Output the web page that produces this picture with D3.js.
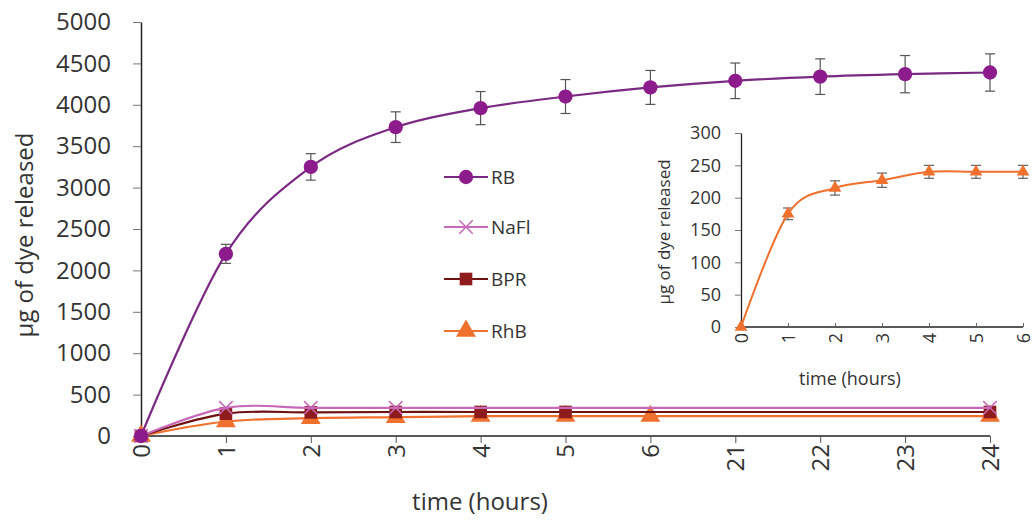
<!DOCTYPE html>
<meta charset="utf-8">
<script src="https://d3js.org/d3.v7.min.js"></script>
<style>
    body { margin: 0; background: #fff; font-family: "Open Sans", sans-serif; }
    text { fill: #333; }
</style>
<div id="viz_area"></div>
<script>
    // data
    var timeLabels = ["0", "1", "2", "3", "4", "5", "6", "21", "22", "23", "24"]
    var rbValues = [0, 2200, 3250, 3730, 3960, 4100, 4210, 4290, 4340, 4370, 4390]
    var rbErrors = [0, 115, 160, 185, 200, 205, 205, 215, 215, 225, 225]
    var naflValues = [0, 340, 340, 340, null, null, null, null, null, null, 340]
    var bprValues = [0, 270, 285, 290, 290, 290, null, null, null, null, 290]
    var rhbValues = [0, 175, 215, 227, 240, 240, 240, null, null, null, 240]
    var yTicks = [0, 500, 1000, 1500, 2000, 2500, 3000, 3500, 4000, 4500, 5000]

    var insetTimes = ["0", "1", "2", "3", "4", "5", "6"]
    var insetValues = [0, 175, 215, 227, 240, 240, 240]
    var insetErrors = [0, 9, 11, 11, 10, 10, 10]
    var insetTicks = [0, 50, 100, 150, 200, 250, 300]

    var series = [
        { name: "RB", values: rbValues, errors: rbErrors, line: "#7a2a82", fill: "#8c1b8c", shape: "circle" },
        { name: "NaFl", values: naflValues, line: "#c868b8", fill: "#c868b8", shape: "cross" },
        { name: "BPR", values: bprValues, line: "#6e1212", fill: "#8e1c1c", shape: "square" },
        { name: "RhB", values: rhbValues, line: "#f0702e", fill: "#f0702e", shape: "triangle" }
    ]

    var W = 1034, H = 522
    var svg = d3.select("#viz_area").append("svg")
        .attr("width", W).attr("height", H)

    var x = d3.scalePoint().domain(timeLabels).range([141, 990])
    var y = d3.scaleLinear().domain([0, 5000]).range([436, 22])

    // axes
    var yAxis = svg.append("g")
        .attr("transform", "translate(141,0)")
        .call(d3.axisLeft(y).tickValues(yTicks).tickFormat(d3.format("d"))
            .tickSize(8).tickSizeOuter(0).tickPadding(22))
    yAxis.select(".domain").attr("stroke", "#222").attr("stroke-width", 1.5)
    yAxis.selectAll(".tick line").attr("stroke", "#777")
    yAxis.selectAll("text").attr("font-size", "24px").attr("fill", "#333")
        .attr("font-family", "Open Sans")

    var xAxis = svg.append("g")
        .attr("transform", "translate(0,436)")
        .call(d3.axisBottom(x).tickSize(7).tickSizeOuter(0))
    xAxis.select(".domain").attr("stroke", "#222").attr("stroke-width", 1.5)
        .attr("d", "M141,0H990")
    xAxis.selectAll(".tick line").attr("stroke", "#555")
    xAxis.selectAll("text")
        .attr("font-size", "24px").attr("fill", "#333").attr("font-family", "Open Sans")
        .attr("transform", "rotate(-90)")
        .attr("text-anchor", "end")
        .attr("x", -8).attr("y", 0).attr("dy", "0.35em")

    svg.append("text")
        .attr("x", 480).attr("y", 510)
        .attr("text-anchor", "middle")
        .attr("font-size", "24px")
        .text("time (hours)")

    svg.append("text")
        .attr("transform", "translate(33,235) rotate(-90)")
        .attr("text-anchor", "middle")
        .attr("font-size", "24px")
        .text("µg of dye released")

    function symbolFor(shape, size) {
        var t = { circle: d3.symbolCircle, square: d3.symbolSquare, triangle: d3.symbolTriangle, cross: d3.symbolX }
        return d3.symbol().type(t[shape]).size(size)
    }
    function symSize(shape) {
        return shape == "cross" ? 120 : shape == "triangle" ? 170 : 160
    }

    var line = d3.line()
        .defined(function(d) { return d.v != null })
        .x(function(d) { return x(d.t) })
        .y(function(d) { return y(d.v) })
        .curve(d3.curveCatmullRom.alpha(0))

    // lower series first, RB on top
    series.slice().reverse().forEach(function(s) {
        var pts = timeLabels.map(function(t, i) { return { t: t, v: s.values[i], e: s.errors ? s.errors[i] : 0 } })
            .filter(function(d) { return d.v != null })
        var g = svg.append("g")

        if (s.errors) {
            var eb = g.selectAll(".err").data(pts.filter(function(d) { return d.e > 0 }))
                .enter().append("g").attr("stroke", "#555").attr("stroke-width", 1.2)
            eb.append("line")
                .attr("x1", function(d) { return x(d.t) }).attr("x2", function(d) { return x(d.t) })
                .attr("y1", function(d) { return y(d.v + d.e) }).attr("y2", function(d) { return y(d.v - d.e) })
            eb.append("line")
                .attr("x1", function(d) { return x(d.t) - 5 }).attr("x2", function(d) { return x(d.t) + 5 })
                .attr("y1", function(d) { return y(d.v + d.e) }).attr("y2", function(d) { return y(d.v + d.e) })
            eb.append("line")
                .attr("x1", function(d) { return x(d.t) - 5 }).attr("x2", function(d) { return x(d.t) + 5 })
                .attr("y1", function(d) { return y(d.v - d.e) }).attr("y2", function(d) { return y(d.v - d.e) })
        }

        g.append("path").datum(pts)
            .attr("d", line)
            .attr("fill", "none")
            .attr("stroke", s.line)
            .attr("stroke-width", 2.2)

        g.selectAll(".pt").data(pts).enter().append("path")
            .attr("transform", function(d) { return "translate(" + x(d.t) + "," + y(d.v) + ")" })
            .attr("d", symbolFor(s.shape, symSize(s.shape)))
            .attr("fill", s.fill)
            .attr("stroke", s.shape == "cross" ? s.fill : "none")
            .attr("stroke-width", 1.5)
    })

    // legend
    var legend = svg.selectAll(".legend").data(series).enter().append("g")
        .attr("transform", function(d, i) { return "translate(444," + [177, 227, 279, 331][i] + ")" })
    legend.append("line").attr("x1", 0).attr("x2", 44)
        .attr("stroke", function(d) { return d.line }).attr("stroke-width", 2)
    legend.append("path").attr("transform", "translate(22,0)")
        .attr("d", function(d) { return symbolFor(d.shape, symSize(d.shape))() })
        .attr("fill", function(d) { return d.fill })
        .attr("stroke", function(d) { return d.shape == "cross" ? d.fill : "none" })
        .attr("stroke-width", 1.5)
    legend.append("text").attr("x", 47).attr("dy", "0.36em")
        .attr("font-size", "19px")
        .text(function(d) { return d.name })

    // inset
    var xi = d3.scalePoint().domain(insetTimes).range([741, 1023])
    var yi = d3.scaleLinear().domain([0, 300]).range([327, 133])

    var yiAxis = svg.append("g").attr("transform", "translate(741,0)")
        .call(d3.axisLeft(yi).tickValues(insetTicks).tickSize(6).tickSizeOuter(0).tickPadding(14))
    yiAxis.select(".domain").attr("stroke", "#222").attr("stroke-width", 1.3)
    yiAxis.selectAll(".tick line").attr("stroke", "#777")
    yiAxis.selectAll("text").attr("font-size", "18px").attr("fill", "#333").attr("font-family", "Open Sans")

    var xiAxis = svg.append("g").attr("transform", "translate(0,327)")
        .call(d3.axisBottom(xi).tickSize(0).tickSizeOuter(0))
    xiAxis.select(".domain").attr("stroke", "#222").attr("stroke-width", 1.3)
        .attr("d", "M741,0H1023")
    xiAxis.selectAll(".tick line").attr("y1", -4).attr("y2", 0).attr("stroke", "#666")
    xiAxis.selectAll("text")
        .attr("font-size", "18px").attr("fill", "#333").attr("font-family", "Open Sans")
        .attr("transform", "rotate(-90)")
        .attr("text-anchor", "end")
        .attr("x", -6).attr("y", 0).attr("dy", "0.35em")

    svg.append("text")
        .attr("x", 850).attr("y", 385)
        .attr("text-anchor", "middle")
        .attr("font-size", "18px")
        .text("time (hours)")

    svg.append("text")
        .attr("transform", "translate(670,232) rotate(-90)")
        .attr("text-anchor", "middle")
        .attr("font-size", "17px")
        .text("µg of dye released")

    var ipts = insetTimes.map(function(t, i) { return { t: t, v: insetValues[i], e: insetErrors[i] } })
    var ig = svg.append("g")
    var ieb = ig.selectAll(".err").data(ipts.filter(function(d) { return d.e > 0 }))
        .enter().append("g").attr("stroke", "#555").attr("stroke-width", 1.1)
    ieb.append("line")
        .attr("x1", function(d) { return xi(d.t) }).attr("x2", function(d) { return xi(d.t) })
        .attr("y1", function(d) { return yi(d.v + d.e) }).attr("y2", function(d) { return yi(d.v - d.e) })
    ieb.append("line")
        .attr("x1", function(d) { return xi(d.t) - 5 }).attr("x2", function(d) { return xi(d.t) + 5 })
        .attr("y1", function(d) { return yi(d.v + d.e) }).attr("y2", function(d) { return yi(d.v + d.e) })
    ieb.append("line")
        .attr("x1", function(d) { return xi(d.t) - 5 }).attr("x2", function(d) { return xi(d.t) + 5 })
        .attr("y1", function(d) { return yi(d.v - d.e) }).attr("y2", function(d) { return yi(d.v - d.e) })

    ig.append("path").datum(ipts)
        .attr("d", d3.line().x(function(d) { return xi(d.t) }).y(function(d) { return yi(d.v) })
            .curve(d3.curveCatmullRom.alpha(0)))
        .attr("fill", "none").attr("stroke", "#f0702e").attr("stroke-width", 2)
    ig.selectAll(".pt").data(ipts).enter().append("path")
        .attr("transform", function(d) { return "translate(" + xi(d.t) + "," + yi(d.v) + ")" })
        .attr("d", symbolFor("triangle", 70))
        .attr("fill", "#f0702e")
</script>
